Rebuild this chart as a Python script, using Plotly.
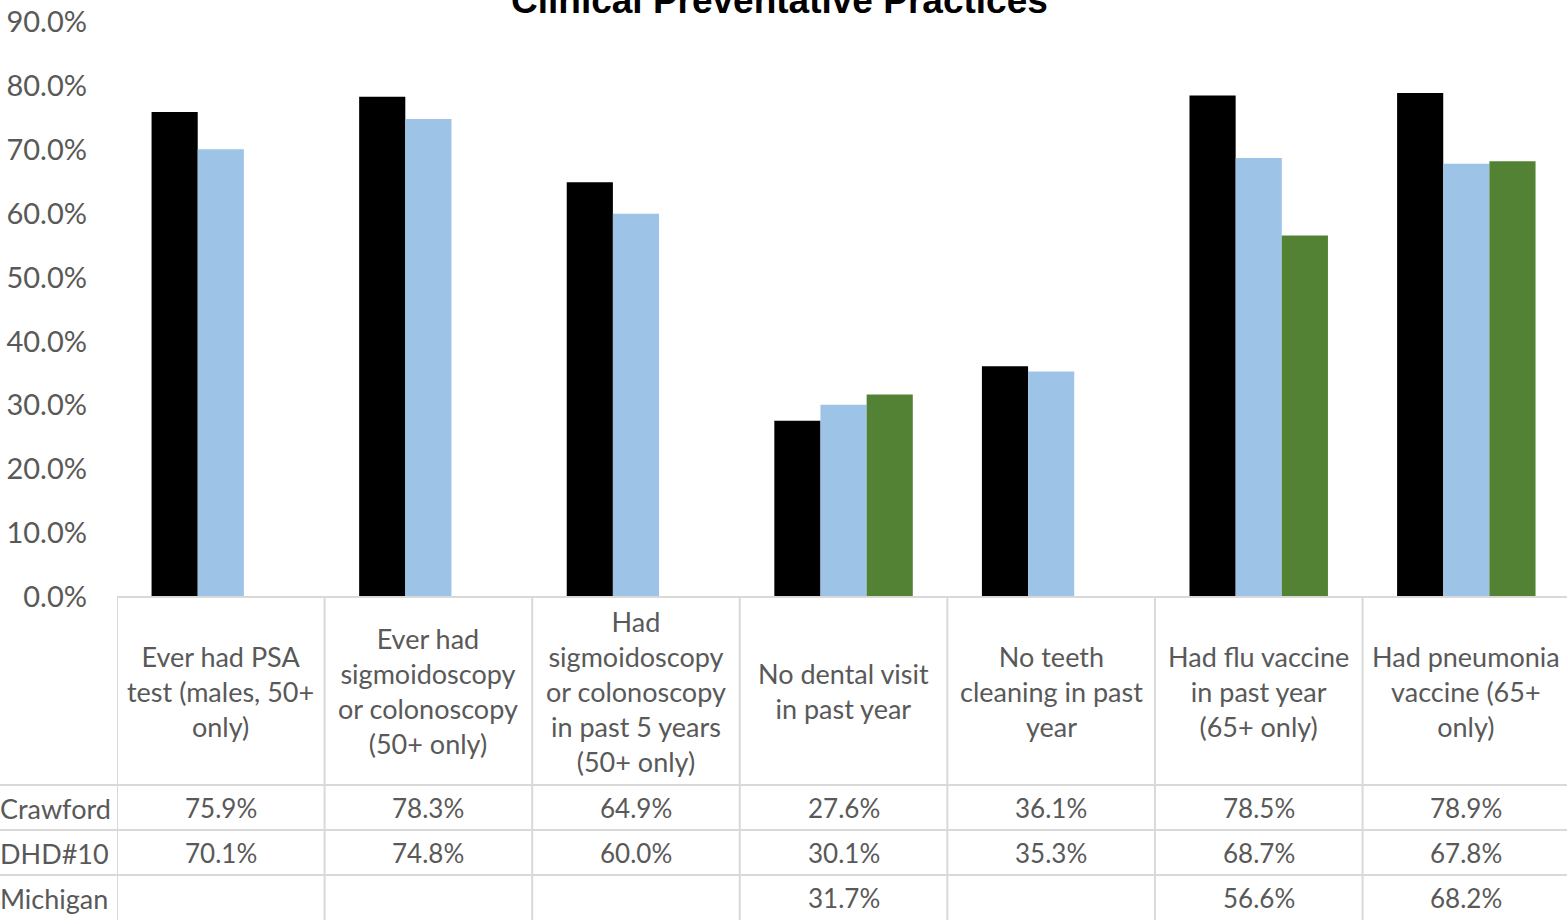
import plotly.graph_objects as go

categories = [
    "Ever had PSA<br>test (males, 50+<br>only)",
    "Ever had<br>sigmoidoscopy<br>or colonoscopy<br>(50+ only)",
    "Had<br>sigmoidoscopy<br>or colonoscopy<br>in past 5 years<br>(50+ only)",
    "No dental visit<br>in past year",
    "No teeth<br>cleaning in past<br>year",
    "Had flu vaccine<br>in past year<br>(65+ only)",
    "Had pneumonia<br>vaccine (65+<br>only)",
]
series_names = ["Crawford", "DHD#10", "Michigan"]
crawford = [75.9, 78.3, 64.9, 27.6, 36.1, 78.5, 78.9]
dhd10 = [70.1, 74.8, 60.0, 30.1, 35.3, 68.7, 67.8]
michigan = [None, None, None, 31.7, None, 56.6, 68.2]
colors = ["#000000", "#9DC3E6", "#548235"]
y_ticks = [0, 10, 20, 30, 40, 50, 60, 70, 80, 90]

W, H = 1567, 920
L, R, T, B = 117, 0, 22, 323
plot_h = H - T - B
FONT = "Lato"
GRAY = "#595959"
LINE = "#D9D9D9"


def py(px):
    return (H - B - px) / plot_h


def pxx(px):
    return (px - L) / (W - L - R)


xs = list(range(len(categories)))
fig = go.Figure()
for name, vals, col in zip(series_names, [crawford, dhd10, michigan], colors):
    fig.add_trace(go.Bar(x=xs, y=vals, name=name, marker=dict(color=col, line=dict(width=0))))

annotations = []
shapes = []
# header cells
for i, c in enumerate(categories):
    annotations.append(dict(x=i, y=py(691), xref="x", yref="paper", text=c, showarrow=False,
                            xanchor="center", yanchor="middle", align="center",
                            font=dict(family=FONT, size=27, color=GRAY)))
# data rows
row_centers = [808, 853, 898]
for r, (name, vals) in enumerate(zip(series_names, [crawford, dhd10, michigan])):
    annotations.append(dict(x=pxx(-2), y=py(row_centers[r]), xref="paper", yref="paper", text=name,
                            showarrow=False, xanchor="left", yanchor="middle",
                            font=dict(family=FONT, size=27, color=GRAY)))
    for i, v in enumerate(vals):
        if v is None:
            continue
        annotations.append(dict(x=i, y=py(row_centers[r]), xref="x", yref="paper",
                                text=f"{v:.1f}%", showarrow=False, xanchor="center", yanchor="middle",
                                font=dict(family=FONT, size=26, color=GRAY)))
# title
annotations.append(dict(x=pxx(779), y=py(0), xref="paper", yref="paper",
                        text="<b>Clinical Preventative Practices</b>", showarrow=False,
                        xanchor="center", yanchor="middle",
                        font=dict(family="Liberation Sans", size=37, color="#000000")))

# table grid
for i in range(len(categories)):
    shapes.append(dict(type="line", xref="x", yref="paper", x0=i - 0.5, x1=i - 0.5,
                       y0=py(597), y1=py(920), line=dict(color=LINE, width=2)))
shapes.append(dict(type="line", xref="paper", yref="paper", x0=0, x1=1, y0=py(597), y1=py(597),
                   line=dict(color=LINE, width=2)))
for yy in [785, 830, 875]:
    shapes.append(dict(type="line", xref="paper", yref="paper", x0=pxx(0), x1=1, y0=py(yy), y1=py(yy),
                       line=dict(color=LINE, width=2)))

fig.update_layout(
    width=W, height=H,
    margin=dict(l=L, r=R, t=T, b=B, autoexpand=False),
    paper_bgcolor="white", plot_bgcolor="white",
    barmode="group", bargap=0.333, bargroupgap=0,
    showlegend=False,
    annotations=annotations, shapes=shapes,
    xaxis=dict(range=[-0.5, len(categories) - 0.515], showticklabels=False, showgrid=False,
               zeroline=False, showline=False, ticks=""),
    yaxis=dict(range=[0, 90], tickvals=y_ticks, ticktext=[f"{t:.1f}%" for t in y_ticks],
               showgrid=False, zeroline=False, showline=False, ticks="",
               ticklabelstandoff=29,
               tickfont=dict(family=FONT, size=29, color=GRAY)),
)

fig.write_html("out.html", config={"displayModeBar": False},
               post_script="document.body.style.margin='0';document.body.style.overflow='hidden';")
